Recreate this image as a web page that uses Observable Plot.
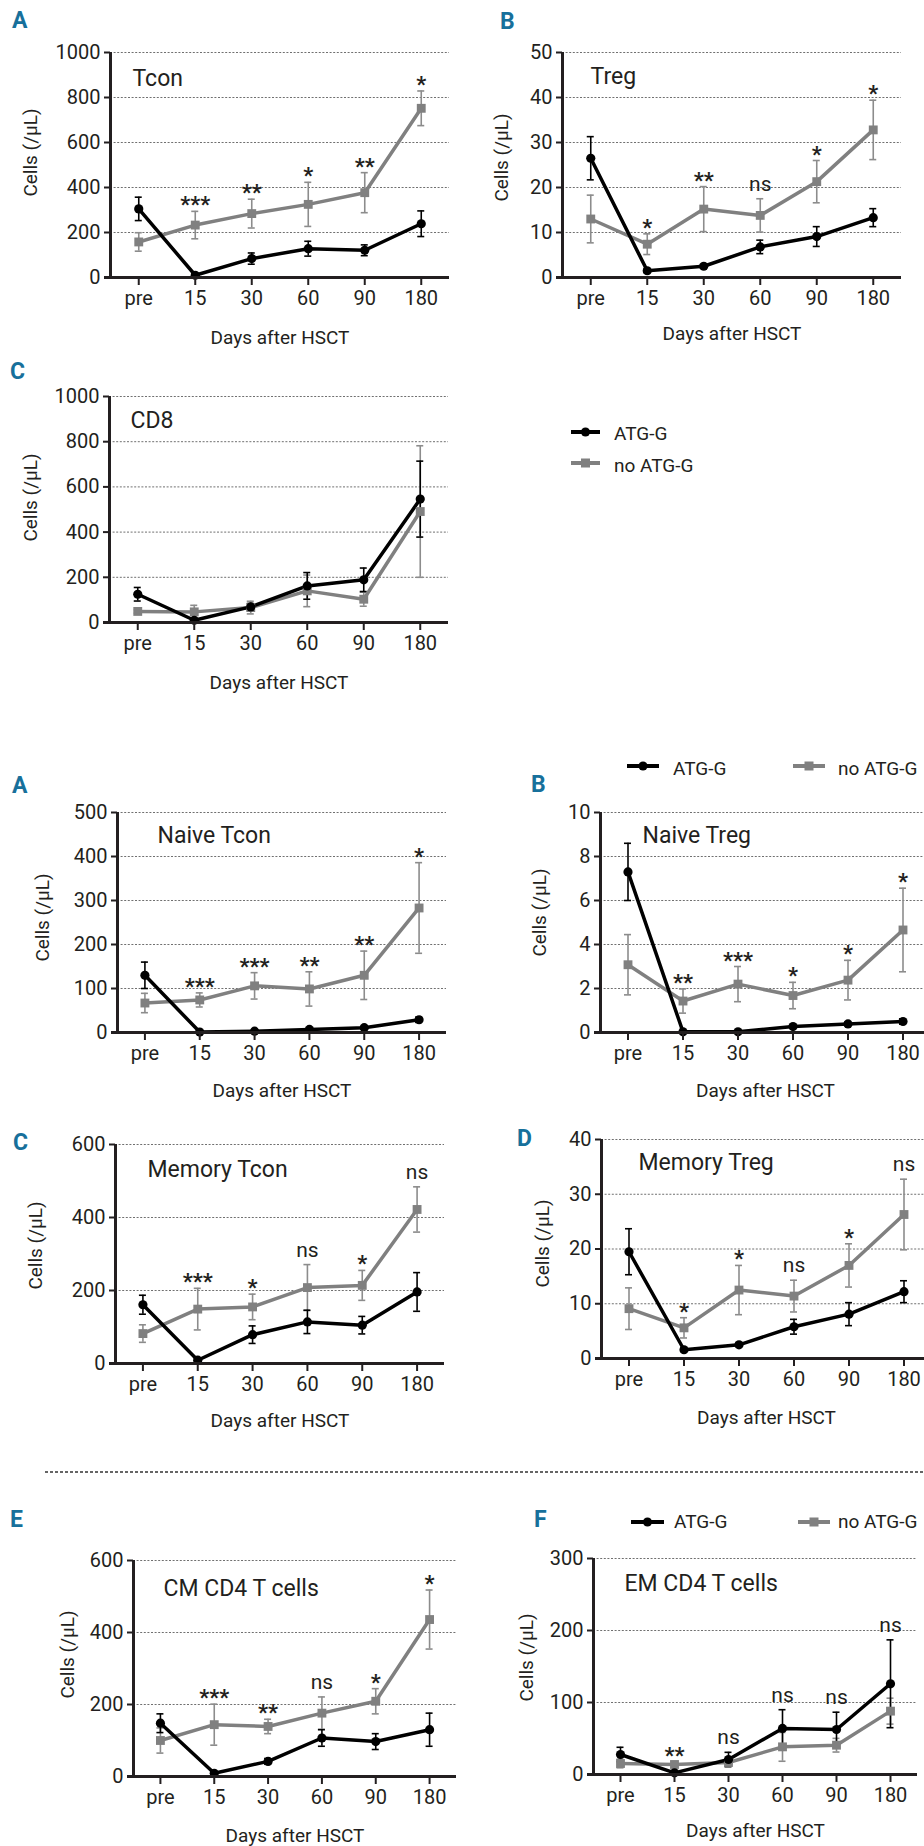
<!DOCTYPE html>
<html><head><meta charset="utf-8">
<script src="https://cdn.jsdelivr.net/npm/d3@7"></script>
<script src="https://cdn.jsdelivr.net/npm/@observablehq/plot@0.6"></script>
<style>
html,body{margin:0;padding:0;background:#fff;}
#page{position:relative;width:924px;height:1846px;overflow:hidden;font-family:Roboto,"Liberation Sans",Arial,sans-serif;color:#231f20;}
</style></head>
<body><div id="page"></div>
<script>
// ---------- data ----------
const days = ["pre","15","30","60","90","180"];
const series = ["ATG-G","no ATG-G"];
const seriesColors = ["#000000","#808080"];
const errColors = ["#000000","#8c8c8c"];

// A: Tcon
const tconTicks = [0,200,400,600,800,1000];
const tconATG = [305,10,84,128,121,239];
const tconATGerr = [52,6,25,33,24,57];
const tconNo = [158,233,284,325,377,752];
const tconNoErr = [41,61,64,98,89,77];
const tconSig = ["","***","**","*","**","*"];

// B: Treg
const tregTicks = [0,10,20,30,40,50];
const tregATG = [26.5,1.5,2.5,6.8,9.1,13.3];
const tregATGerr = [4.8,0.4,0.4,1.5,2.2,2.0];
const tregNo = [13.0,7.4,15.2,13.8,21.3,32.8];
const tregNoErr = [5.3,2.3,5.0,3.7,4.7,6.6];
const tregSig = ["","*","**","ns","*","*"];

// C: CD8
const cd8Ticks = [0,200,400,600,800,1000];
const cd8ATG = [125,10,69,162,189,546];
const cd8ATGerr = [30,6,15,59,52,168];
const cd8No = [49,47,66,140,103,491];
const cd8NoErr = [8,29,28,70,31,291];
const cd8Sig = ["","","","","",""];

// A: Naive Tcon
const ntconTicks = [0,100,200,300,400,500];
const ntconATG = [130,1,3,7,11,29];
const ntconATGerr = [30,1,1,2,3,6];
const ntconNo = [67,74,106,99,130,283];
const ntconNoErr = [22,16,30,39,55,103];
const ntconSig = ["","***","***","**","**","*"];

// B: Naive Treg
const ntregTicks = [0,2,4,6,8,10];
const ntregATG = [7.3,0.03,0.03,0.27,0.39,0.5];
const ntregATGerr = [1.3,0.02,0.02,0.06,0.08,0.12];
const ntregNo = [3.08,1.43,2.2,1.68,2.38,4.66];
const ntregNoErr = [1.37,0.55,0.8,0.6,0.9,1.9];
const ntregSig = ["","**","***","*","*","*"];

// C: Memory Tcon
const mtconTicks = [0,200,400,600];
const mtconATG = [161,9,79,114,105,196];
const mtconATGerr = [26,4,24,32,24,53];
const mtconNo = [82,149,155,208,214,422];
const mtconNoErr = [24,57,35,63,41,62];
const mtconSig = ["","***","*","ns","*","ns"];

// D: Memory Treg
const mtregTicks = [0,10,20,30,40];
const mtregATG = [19.5,1.6,2.5,5.8,8.1,12.2];
const mtregATGerr = [4.2,0.3,0.3,1.35,2.1,2.0];
const mtregNo = [9.1,5.6,12.5,11.4,17.0,26.3];
const mtregNoErr = [3.8,1.85,4.5,2.9,3.95,6.45];
const mtregSig = ["","*","*","ns","*","ns"];

// E: CM CD4 T cells
const cmTicks = [0,200,400,600];
const cmATG = [148,9,42,107,97,130];
const cmATGerr = [26,4,8,23,22,46];
const cmNo = [100,144,139,176,209,436];
const cmNoErr = [35,57,20,45,35,82];
const cmSig = ["","***","**","ns","*","*"];

// F: EM CD4 T cells
const emTicks = [0,100,200,300];
const emATG = [27.8,2.3,20.8,64,62.5,126];
const emATGerr = [10,1,10,26,24,61];
const emNo = [15.3,13.9,16.7,38.4,40.7,88];
const emNoErr = [6,4,5,20,9.5,18];
const emSig = ["","**","ns","ns","ns","ns"];

const xTitle = "Days after HSCT";
const yTitle = "Cells (/μL)";

// ---------- layout ----------
const panels = [
 {title:"Tcon", atg:tconATG, atgErr:tconATGerr, no:tconNo, noErr:tconNoErr, sig:tconSig, ticks:tconTicks,
  x0:110, x1:449, yTop:52, yZero:277, tdx:22, tdy:33, xlabDy:60, ylabDx:-80, ylabY:152},
 {title:"Treg", atg:tregATG, atgErr:tregATGerr, no:tregNo, noErr:tregNoErr, sig:tregSig, ticks:tregTicks,
  x0:562, x1:901, yTop:52, yZero:277, tdx:28, tdy:31, xlabDy:56, ylabDx:-61, ylabY:157},
 {title:"CD8", atg:cd8ATG, atgErr:cd8ATGerr, no:cd8No, noErr:cd8NoErr, sig:cd8Sig, ticks:cd8Ticks,
  x0:109, x1:448, yTop:396, yZero:622, tdx:21, tdy:31, xlabDy:60, ylabDx:-79, ylabY:497},
 {title:"Naive Tcon", atg:ntconATG, atgErr:ntconATGerr, no:ntconNo, noErr:ntconNoErr, sig:ntconSig, ticks:ntconTicks,
  x0:117, x1:446, yTop:812, yZero:1032, tdx:40, tdy:30, xlabDy:58, ylabDx:-75, ylabY:917},
 {title:"Naive Treg", atg:ntregATG, atgErr:ntregATGerr, no:ntregNo, noErr:ntregNoErr, sig:ntregSig, ticks:ntregTicks,
  x0:600, x1:930, yTop:812, yZero:1032, tdx:42, tdy:30, xlabDy:58, ylabDx:-61, ylabY:912},
 {title:"Memory Tcon", atg:mtconATG, atgErr:mtconATGerr, no:mtconNo, noErr:mtconNoErr, sig:mtconSig, ticks:mtconTicks,
  x0:115, x1:444, yTop:1144, yZero:1363, tdx:32, tdy:32, xlabDy:57, ylabDx:-80, ylabY:1245},
 {title:"Memory Treg", atg:mtregATG, atgErr:mtregATGerr, no:mtregNo, noErr:mtregNoErr, sig:mtregSig, ticks:mtregTicks,
  x0:601, x1:931, yTop:1139, yZero:1358, tdx:37, tdy:30, xlabDy:59, ylabDx:-59, ylabY:1243},
 {title:"CM CD4 T cells", atg:cmATG, atgErr:cmATGerr, no:cmNo, noErr:cmNoErr, sig:cmSig, ticks:cmTicks,
  x0:133, x1:456, yTop:1560, yZero:1776, tdx:30, tdy:35, xlabDy:59, ylabDx:-66, ylabY:1654},
 {title:"EM CD4 T cells", atg:emATG, atgErr:emATGerr, no:emNo, noErr:emNoErr, sig:emSig, ticks:emTicks,
  x0:593, x1:917, yTop:1558, yZero:1774, tdx:31, tdy:32, xlabDy:56, ylabDx:-67, ylabY:1657}
];

const page = document.getElementById("page");
const FONT = "Roboto, 'Liberation Sans', Arial, sans-serif";
const TXT = "#231f20";

panels.forEach(p => {
  const ml = 95, mr = 8, mt = 45, mb = 72;
  const width = (p.x1 - p.x0) + ml + mr;
  const height = (p.yZero - p.yTop) + mt + mb;
  const ymax = p.ticks[p.ticks.length - 1];
  const rows = [];
  [[p.atg, p.atgErr, 0], [p.no, p.noErr, 1]].forEach(([m, e, s]) =>
    m.forEach((v, i) => rows.push({i, m: v, lo: v - e[i], hi: v + e[i], s})));
  const black = rows.filter(r => r.s === 0), grey = rows.filter(r => r.s === 1);
  const sigRows = p.sig.map((t, i) => ({i, t, top: Math.max(p.atg[i] + p.atgErr[i], p.no[i] + p.noErr[i])}));
  const stars = sigRows.filter(d => d.t && d.t !== "ns");
  const ns = sigRows.filter(d => d.t === "ns");
  const errMarks = (data, s) => [
    Plot.ruleX(data, {x: "i", y1: "lo", y2: "hi", stroke: errColors[s], strokeWidth: 1.6}),
    Plot.ruleY(data, {y: "hi", x1: "i", x2: "i", insetLeft: -3.5, insetRight: -3.5, stroke: errColors[s], strokeWidth: 1.6}),
    Plot.ruleY(data, {y: "lo", x1: "i", x2: "i", insetLeft: -3.5, insetRight: -3.5, stroke: errColors[s], strokeWidth: 1.6})
  ];
  const chart = Plot.plot({
    width, height,
    marginLeft: ml, marginRight: mr, marginTop: mt, marginBottom: mb,
    x: {type: "linear", domain: [-0.5, days.length - 0.5]},
    y: {type: "linear", domain: [0, ymax]},
    style: {fontFamily: FONT, color: TXT, background: "transparent", overflow: "visible", maxWidth: "none"},
    marks: [
      Plot.ruleY(p.ticks.filter(t => t > 0), {stroke: "#707070", strokeWidth: 1, strokeDasharray: "2,1.6"}),
      ...errMarks(grey, 1),
      ...errMarks(black, 0),
      Plot.line(grey, {x: "i", y: "m", stroke: seriesColors[1], strokeWidth: 3.5}),
      Plot.line(black, {x: "i", y: "m", stroke: seriesColors[0], strokeWidth: 3.5}),
      Plot.dot(grey, {x: "i", y: "m", symbol: "square", r: 5, fill: seriesColors[1], stroke: "none"}),
      Plot.dot(black, {x: "i", y: "m", symbol: "circle", r: 4.6, fill: seriesColors[0], stroke: "none"}),
      Plot.ruleX([-0.5], {stroke: TXT, strokeWidth: 3, insetBottom: -1.5}),
      Plot.ruleY([0], {stroke: TXT, strokeWidth: 3, insetLeft: -6}),
      Plot.axisY({ticks: p.ticks, tickSize: 6, tickPadding: 4, fontSize: 20, strokeWidth: 2, label: null, tickFormat: d => String(d)}),
      Plot.axisX({ticks: d3.range(days.length), tickFormat: i => days[i], tickSize: 8, tickPadding: 5, fontSize: 20, strokeWidth: 2, label: null}),
      Plot.text(stars, {x: "i", y: "top", text: "t", fontSize: 22, fontWeight: "bold", lineAnchor: "bottom", dy: 1, fill: TXT}),
      Plot.text(ns, {x: "i", y: "top", text: "t", fontSize: 21, lineAnchor: "bottom", dy: -8, fill: TXT}),
      Plot.text([p.title], {frameAnchor: "top-left", text: d => d, dx: p.tdx, dy: p.tdy, lineAnchor: "bottom", textAnchor: "start", fontSize: 23, fill: TXT}),
      Plot.text([xTitle], {frameAnchor: "bottom", text: d => d, dy: p.xlabDy, lineAnchor: "middle", fontSize: 19, fill: TXT}),
      Plot.text([yTitle], {frameAnchor: "left", text: d => d, dx: p.ylabDx, dy: p.ylabY - (p.yTop + p.yZero) / 2, rotate: -90, lineAnchor: "middle", textAnchor: "middle", fontSize: 19, fill: TXT})
    ]
  });
  chart.style.position = "absolute";
  chart.style.left = (p.x0 - ml) + "px";
  chart.style.top = (p.yTop - mt) + "px";
  page.appendChild(chart);
});

// ---------- overlay: panel letters, legends, separator ----------
const letters = [
  {t:"A", x:12, y:28}, {t:"B", x:500, y:29}, {t:"C", x:10, y:379},
  {t:"A", x:12, y:793}, {t:"B", x:531, y:792}, {t:"C", x:13, y:1150}, {t:"D", x:517, y:1146},
  {t:"E", x:10, y:1527}, {t:"F", x:534, y:1527}
];
const legends = [
  [{s:0, x:571, w:29, y:432, tx:614, ty:440}, {s:1, x:571, w:29, y:463, tx:614, ty:472}],
  [{s:0, x:627, w:32, y:766, tx:673, ty:775}, {s:1, x:793, w:32, y:766, tx:838, ty:775}],
  [{s:0, x:631, w:33, y:1522, tx:674, ty:1528}, {s:1, x:798, w:32, y:1522, tx:838, ty:1528}]
];
const ov = d3.create("svg").attr("width", 924).attr("height", 1846)
  .style("position", "absolute").style("left", "0px").style("top", "0px")
  .style("pointer-events", "none").style("font-family", FONT);
ov.append("line").attr("x1", 45).attr("x2", 924).attr("y1", 1472).attr("y2", 1472)
  .attr("stroke", "#333").attr("stroke-width", 1.5).attr("stroke-dasharray", "3,2");
letters.forEach(l => ov.append("text").attr("x", l.x).attr("y", l.y).text(l.t)
  .attr("font-size", 23).attr("font-weight", "bold").attr("fill", "#17709b"));
legends.flat().forEach(g => {
  ov.append("line").attr("x1", g.x).attr("x2", g.x + g.w).attr("y1", g.y).attr("y2", g.y)
    .attr("stroke", seriesColors[g.s]).attr("stroke-width", 4);
  if (g.s === 0) ov.append("circle").attr("cx", g.x + g.w / 2).attr("cy", g.y).attr("r", 4.6).attr("fill", seriesColors[0]);
  else ov.append("rect").attr("x", g.x + g.w / 2 - 4.5).attr("y", g.y - 4.5).attr("width", 9).attr("height", 9).attr("fill", seriesColors[1]);
  ov.append("text").attr("x", g.tx).attr("y", g.ty).text(series[g.s]).attr("font-size", 19).attr("fill", TXT);
});
page.appendChild(ov.node());
</script>
</body></html>
